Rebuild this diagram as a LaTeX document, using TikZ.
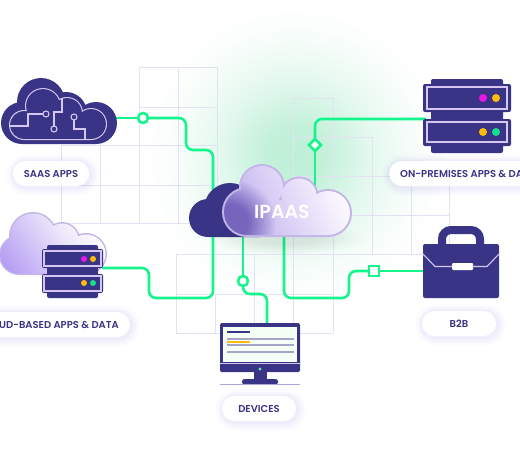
\documentclass[tikz,border=0pt]{standalone}
\usepackage{fontspec}
\setmainfont{Poppins}
\newfontfamily\labf{Poppins SemiBold}
\usetikzlibrary{shapes.geometric,fadings}
\definecolor{dk}{HTML}{3A3486}
\definecolor{lt}{HTML}{D6C6F2}
\definecolor{neon}{HTML}{14F58C}
\definecolor{gridc}{HTML}{E3E1F3}
\definecolor{edge}{HTML}{C2B6E8}
\definecolor{mag}{HTML}{E817E8}
\definecolor{amb}{HTML}{FFBC0A}
\definecolor{grn}{HTML}{14E08C}
\definecolor{shc}{HTML}{8F7FE0}
\definecolor{glowc}{HTML}{BDEFD6}
\definecolor{blob}{HTML}{7565BD}
\definecolor{cbp}{HTML}{A98EF2}
\definecolor{ipa}{HTML}{B3A3EA}
\definecolor{ipb}{HTML}{DDD2F6}
\definecolor{ipc}{HTML}{F6F2FD}
\pgfdeclareradialshading{glowshade}{\pgfpoint{0bp}{0bp}}{color(0bp)=(glowc); color(5bp)=(glowc!90!white); color(12bp)=(glowc!45!white); color(19bp)=(glowc!14!white); color(25bp)=(white); color(50bp)=(white)}
\pgfdeclareradialshading{softshade}{\pgfpoint{0bp}{0bp}}{color(0bp)=(white); color(10bp)=(white); color(25bp)=(black); color(50bp)=(black)}
\pgfdeclarefading{softb}{\pgfuseshading{softshade}}
\pgfdeclarehorizontalshading{cbgrad}{160bp}{color(0bp)=(cbp); color(15bp)=(cbp); color(95bp)=(ipb!50!white); color(125bp)=(white); color(160bp)=(white)}
\pgfdeclarehorizontalshading{ipgrad}{200bp}{color(0bp)=(ipa); color(25bp)=(ipa); color(95bp)=(ipb); color(140bp)=(ipc); color(165bp)=(white); color(200bp)=(white)}
\tikzset{
  x=1pt,y=-1pt,
  gridline/.style={draw=gridc,line width=1pt},
  conn/.style={draw=neon,line width=2.6pt,rounded corners=7pt},
  marker/.style={draw=neon,fill=white,line width=2.6pt,inner sep=0pt},
  lab/.style={fill=white,rounded corners=12.5pt,minimum height=25pt,inner ysep=0pt,inner xsep=11pt,text=dk,font=\labf\fontsize{10}{11}\selectfont,
    preaction={draw=shc,draw opacity=.04,line width=16pt,transform canvas={shift={(1.5pt,-1.5pt)}}},
    preaction={draw=shc,draw opacity=.05,line width=10pt,transform canvas={shift={(1.5pt,-1.5pt)}}},
    preaction={draw=shc,draw opacity=.06,line width=5pt,transform canvas={shift={(1pt,-1pt)}}}},
  unit/.style={fill=dk,rounded corners=2pt,inner sep=0pt},
  unitline/.style={draw=lt,line width=1.2pt},
  paint/.style={inner sep=0pt,outer sep=0pt},
}
\newcommand\saasOut{(41,102) circle (24) (22,123) circle (21) (66,113) circle (21) (96,123) circle (21) (22,144) rectangle (96,118)}
\newcommand\saasIn[1]{(43,106) circle ({18-#1}) (24,125) circle ({15-#1}) (67,113) circle ({16-#1}) (91,124) circle ({16-#1}) (24,{140-#1}) rectangle (91,118)}
\newcommand\ipDark{(230,209) circle (26) (208,218) circle (19) (208,237) rectangle (260,212)}
\newcommand\ipLight[1]{(247,212) circle ({25-#1}) (262,187) circle ({23-#1}) (299,196) circle ({19.5-#1}) (328,213) circle ({24-#1}) (247,{237-#1}) rectangle (328,200)}
\newcommand\cbCloud[1]{(33,236) circle ({24-#1}) (19,255) circle ({20-#1}) (62,240) circle ({18-#1}) (86,254) circle ({21-#1}) (19,{275-#1}) rectangle (86,245)}
\begin{document}
\begin{tikzpicture}
\useasboundingbox (0,0) rectangle (520,458);
\clip (0,0) rectangle (520,458);
% glow
\path[shading=glowshade] (295,155) circle (150);
% grid left
\draw[gridline] (139,67) -- (217,67) (139,107) -- (217,107) (61,145) -- (217,145) (61,185) -- (217,185) (61,223) -- (217,223);
\draw[gridline] (61,145) -- (61,223) (100,145) -- (100,223) (139,67) -- (139,223) (178,67) -- (178,223) (217,67) -- (217,223);
% grid right
\draw[gridline] (293,98) -- (333,98) (293,137) -- (372,137) (293,176) -- (449,176) (293,215) -- (449,215) (176,254) -- (449,254);
\draw[gridline] (293,98) -- (293,333) (333,98) -- (333,333) (372,137) -- (372,254) (411,176) -- (411,254) (449,176) -- (449,254);
% grid bottom
\draw[gridline] (176,294) -- (333,294) (176,333) -- (333,333);
\draw[gridline] (176,254) -- (176,333) (215,294) -- (215,333) (254,254) -- (254,333);

% connector markers and ends
\coordinate (saasOutP) at (115,118);
\coordinate (cbOutP) at (102,268);
\coordinate (hubA) at (213,200);
\coordinate (hubB) at (243,235);
\coordinate (hubC) at (284,235);
\coordinate (hubD) at (315,192);
\coordinate (monIn) at (267,325);
\coordinate (caseIn) at (425,271);
\coordinate (srvIn) at (426,119);
\coordinate (mkA) at (143,118);
\coordinate (mkB) at (243,281);
\coordinate (mkC) at (315,145);
\coordinate (mkD) at (374,271);

\path[conn] (saasOutP) -- (mkA);
\path[conn] (mkA) -- (186,118) -- (186,150) -- (213,150) -- (hubA);
\path[conn] (cbOutP) -- (149,268) -- (149,298) -- (213,298) -- (hubA);
\path[conn] (hubB) -- (mkB);
\path[conn] (mkB) -- (243,294) -- (267,294) -- (monIn);
\path[conn] (hubC) -- (284,298) -- (349,298) -- (349,271) -- (mkD);
\path[conn] (mkD) -- (caseIn);
\path[conn] (hubD) -- (mkC);
\path[conn] (mkC) -- (315,119) -- (srvIn);
\node[marker,circle,minimum size=10pt] (nA) at (mkA) {};
\node[marker,circle,minimum size=10pt] (nB) at (mkB) {};
\node[marker,diamond,minimum size=13pt] (nC) at (mkC) {};
\node[marker,minimum size=10pt] (nD) at (mkD) {};

% SaaS cloud
\fill[dk] \saasOut;
\fill[lt] \saasIn{0};
\fill[dk] \saasIn{1.1};
\draw[lt,line width=1.1pt] (62,98) -- (62,112) -- (54,112) -- (54,126);
\draw[lt,line width=1.1pt] (10,126) -- (28,126) -- (28,114) -- (43,114);
\draw[lt,line width=1.1pt] (74,120) -- (74,129) -- (85,129) -- (85,140);
\draw[lt,line width=1.1pt,fill=dk] (46,114) circle (3);
\draw[lt,line width=1.1pt,fill=dk] (54,129) circle (3);
\draw[lt,line width=1.1pt,fill=dk] (74,117) circle (3);

% cloud-based cloud
\fill[edge] \cbCloud{0};
\begin{scope}
\clip \cbCloud{1.5};
\node[paint,rotate=35] (cbFill) at (52,243) {\pgfuseshading{cbgrad}};
\end{scope}

% small server
\node[unit,minimum width=51pt,minimum height=53pt] (cbBody) at (72.5,271.5) {};
\node[unit,minimum width=61pt,minimum height=19pt] (cbU1) at (72.5,258.5) {};
\node[unit,minimum width=61pt,minimum height=19pt] (cbU2) at (72.5,283.5) {};
\draw[unitline] (44,251) rectangle (101,266);
\draw[unitline] (44,276) rectangle (101,291);
\fill[mag] (84,259) circle (3);
\fill[amb] (93,259) circle (3);
\fill[amb] (84,283) circle (3);
\fill[grn] (93,283) circle (3);

% large server
\node[unit,minimum width=72pt,minimum height=74pt] (srvBody) at (467,116) {};
\node[unit,minimum width=88pt,minimum height=28pt] (srvU1) at (467,98) {};
\node[unit,minimum width=88pt,minimum height=27pt] (srvU2) at (467,132.5) {};
\draw[unitline] (427,87) rectangle (507,109);
\draw[unitline] (427,122) rectangle (507,142);
\fill[mag] (483,98) circle (4);
\fill[amb] (496,98) circle (4);
\fill[amb] (483,132) circle (4);
\fill[grn] (496,132) circle (4);

% briefcase
\draw[dk,line width=8pt,rounded corners=9pt] (442,246) -- (442,230) -- (480,230) -- (480,246);
\node[unit,minimum width=76pt,minimum height=54pt] (caseB) at (461,271) {};
\draw[lt,line width=1.1pt] (423,254) -- (435,266.5) -- (487,266.5) -- (499,254);
\node[fill=white,rounded corners=1pt,minimum width=21pt,minimum height=7pt,inner sep=0pt] (clasp) at (462.5,266.5) {};

% monitor
\node[fill=dk,rounded corners=1.5pt,minimum width=80pt,minimum height=49pt,inner sep=0pt] (mon) at (260,347.5) {};
\node[fill=white!96!green,minimum width=74pt,minimum height=35pt,inner sep=0pt] (scr) at (260,344.5) {};
\draw[lt,line width=1.1pt] (220,363.6) -- (300,363.6);
\fill[grn!70!white] (260,369) circle (1.7);
\fill[dk] (254,372) rectangle (267,381);
\fill[dk,rounded corners=2.5pt] (242,384.5) -- (242,379) -- (278,379) -- (278,384.5) -- cycle;
\draw[edge!85!dk,line width=.9pt] (220,384.6) -- (300,384.6);
\draw[dk,line width=1.1pt] (227,332) -- (250,332);
\draw[dk!45!white,line width=1.1pt] (227,339) -- (294,339) (227,345) -- (294,345) (227,352) -- (294,352);
\draw[amb,line width=1.4pt] (227,342) -- (250,342);

% hub clouds
\fill[dk] \ipDark;
\path[fill=black,fill opacity=.08,path fading=softb] (285,238) ellipse (80 and 16);
\fill[edge] \ipLight{0};
\begin{scope}
\clip \ipLight{2};
\node[paint,rotate=25] (ipFill) at (287,200) {\pgfuseshading{ipgrad}};
\path[fill=blob,path fading=softb] (228,222) ellipse (48 and 44);
\end{scope}
\node[text=white,font=\labf\fontsize{19}{22}\selectfont] (hubT) at (282,212) {IPAAS};

% labels
\node[lab,minimum width=74pt] (lSaas) at (51,173.5) {SAAS APPS};
\node[lab,anchor=east] (lCb) at (130,324.5) {CLOUD-BASED APPS \& DATA};
\node[lab,anchor=west] (lOn) at (389,173.5) {ON-PREMISES APPS \& DATA};
\node[lab,minimum width=74pt] (lB2b) at (459,323.5) {B2B};
\node[lab,minimum width=74pt] (lDev) at (259,408.5) {DEVICES};
\end{tikzpicture}
\end{document}
